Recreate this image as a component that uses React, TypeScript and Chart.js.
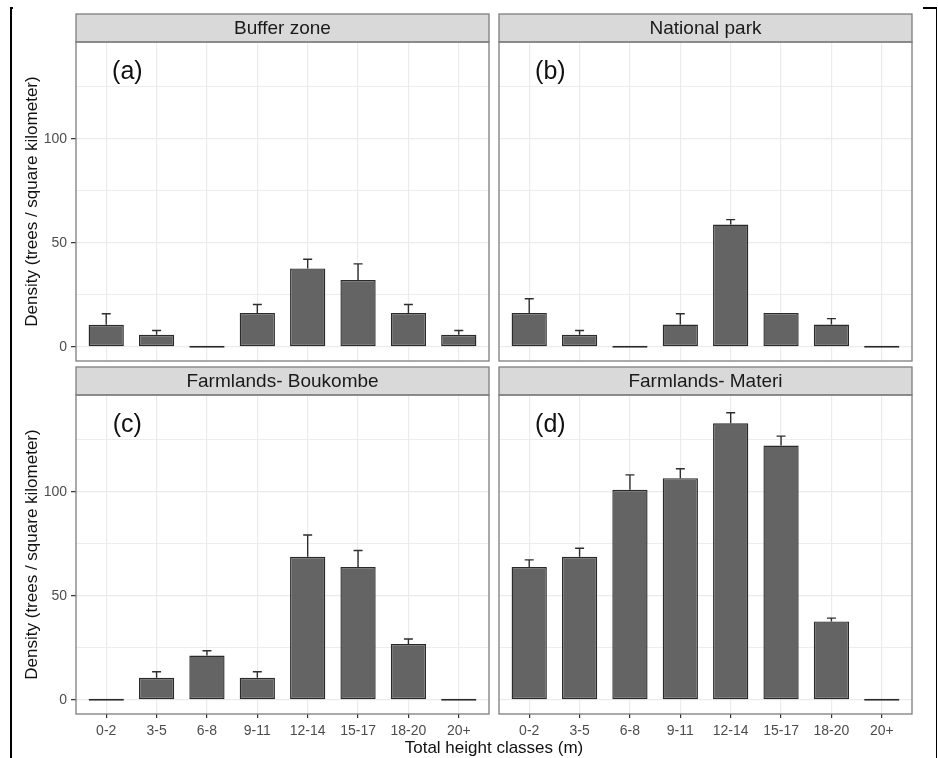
import React, { useEffect, useRef } from 'react';
import { Chart, registerables } from 'chart.js';

Chart.register(...registerables);

// ---- data ----
const heightClasses = ['0-2', '3-5', '6-8', '9-11', '12-14', '15-17', '18-20', '20+'];
const bufferZone = [10.6, 5.8, 0, 16.3, 37.7, 32.1, 16.3, 5.8];
const bufferZoneUpper = [15.9, 7.9, 0, 20.4, 42.1, 39.9, 20.4, 7.9];
const nationalPark = [16.3, 5.8, 0, 10.7, 58.8, 16.3, 10.7, 0];
const nationalParkUpper = [23.1, 7.9, 0, 15.9, 61.2, 16.3, 13.6, 0];
const boukombe = [0, 10.6, 21.3, 10.6, 68.8, 63.9, 26.9, 0];
const boukombeUpper = [0, 13.5, 23.6, 13.5, 79.3, 71.8, 29.3, 0];
const materi = [63.9, 68.8, 101, 106.6, 133, 122.3, 37.7, 0];
const materiUpper = [67.3, 72.9, 108.2, 111.1, 138.1, 126.8, 39.3, 0];
const yTicks = [0, 25, 50, 75, 100, 125];
const yLabelled = [0, 50, 100];
const panelTitles = ['Buffer zone', 'National park', 'Farmlands- Boukombe', 'Farmlands- Materi'];
const panelTags = ['(a)', '(b)', '(c)', '(d)'];
const yTitle = 'Density (trees / square kilometer)';
const xTitle = 'Total height classes (m)';

const FONT = '"Liberation Sans", Arial, Helvetica, sans-serif';

type PanelProps = {
  values: number[];
  upper: number[];
  title: string;
  tag: string;
  showY: boolean;
  showX: boolean;
  left: number;
  top: number;
  width: number;
  height: number;
  padding: { top: number; left: number; right: number; bottom: number };
};

function Panel(p: PanelProps) {
  const ref = useRef<HTMLCanvasElement | null>(null);
  useEffect(() => {
    if (!ref.current) return;
    const facet = {
      id: 'facet' + p.tag,
      afterDatasetsDraw(chart: any) {
        const { ctx } = chart;
        const x = chart.scales.x;
        const y = chart.scales.y;
        ctx.save();
        ctx.strokeStyle = '#2e2e2e';
        ctx.lineWidth = 1.4;
        p.upper.forEach((u, i) => {
          const v = p.values[i];
          if (u <= v) return;
          const px = x.getPixelForValue(i + 1);
          const y0 = y.getPixelForValue(v);
          const y1 = y.getPixelForValue(u);
          ctx.beginPath();
          ctx.moveTo(px, y0);
          ctx.lineTo(px, y1);
          ctx.moveTo(px - 4.5, y1);
          ctx.lineTo(px + 4.5, y1);
          ctx.stroke();
        });
        ctx.restore();
      },
      afterDraw(chart: any) {
        const { ctx, chartArea: a } = chart;
        const x = chart.scales.x;
        const y = chart.scales.y;
        ctx.save();
        // strip
        const sh = 28;
        ctx.fillStyle = '#D9D9D9';
        ctx.fillRect(a.left, a.top - sh, a.right - a.left, sh);
        ctx.strokeStyle = '#7d7d7d';
        ctx.lineWidth = 1.3;
        ctx.strokeRect(a.left, a.top - sh, a.right - a.left, sh);
        ctx.fillStyle = '#1A1A1A';
        ctx.font = `19px ${FONT}`;
        ctx.textAlign = 'center';
        ctx.textBaseline = 'middle';
        ctx.fillText(p.title, (a.left + a.right) / 2, a.top - sh / 2 + 1);
        // panel border
        ctx.strokeRect(a.left, a.top, a.right - a.left, a.bottom - a.top);
        // tag
        ctx.fillStyle = '#111';
        ctx.font = `25px ${FONT}`;
        ctx.fillText(p.tag, x.getPixelForValue(1.42), y.getPixelForValue(132));
        // y title
        if (p.showY) {
          ctx.translate(32, (a.top + a.bottom) / 2);
          ctx.rotate(-Math.PI / 2);
          ctx.fillStyle = '#111';
          ctx.font = `17px ${FONT}`;
          ctx.fillText(yTitle, 0, 0);
        }
        ctx.restore();
      },
    };

    const chart = new Chart(ref.current, {
      type: 'bar',
      data: {
        datasets: [
          {
            data: p.values.map((v, i) => ({ x: i + 1, y: v })),
            backgroundColor: '#646464',
            borderColor: '#2a2a2a',
            borderWidth: 1.4,
            borderSkipped: false,
            barPercentage: 0.7,
            categoryPercentage: 1,
            minBarLength: 2,
          } as any,
        ],
      },
      options: {
        animation: false,
        responsive: false,
        maintainAspectRatio: false,
        layout: { padding: p.padding },
        plugins: { legend: { display: false }, tooltip: { enabled: false } },
        scales: {
          x: {
            type: 'linear',
            min: 0.4,
            max: 8.6,
            offset: false,
            grid: {
              offset: false,
              color: '#EBEBEB',
              lineWidth: 1.2,
              drawTicks: p.showX,
              tickLength: 4,
              tickColor: '#333333',
              tickWidth: 1.2,
            },
            border: { display: false },
            ticks: {
              display: p.showX,
              color: '#4D4D4D',
              font: { family: FONT, size: 14 },
              padding: 5,
              maxRotation: 0,
              autoSkip: false,
              callback: (v: any) => heightClasses[Math.round(Number(v)) - 1] ?? '',
            },
            afterBuildTicks: (s: any) => {
              s.ticks = heightClasses.map((_, i) => ({ value: i + 1 }));
            },
            afterFit: (s: any) => {
              s.height = p.showX ? 44 : 0;
              s.paddingLeft = 0;
              s.paddingRight = 0;
              s.paddingTop = 0;
              s.paddingBottom = 0;
            },
          } as any,
          y: {
            type: 'linear',
            min: -6.8,
            max: 146.6,
            grid: {
              color: '#EBEBEB',
              lineWidth: (c: any) => (c.tick && yLabelled.includes(c.tick.value) ? 1.3 : 0.9),
              drawTicks: p.showY,
              tickLength: 5,
              tickWidth: 1.2,
              tickColor: (c: any) =>
                c.tick && yLabelled.includes(c.tick.value) ? '#333333' : 'rgba(0,0,0,0)',
            },
            border: { display: false },
            ticks: {
              display: p.showY,
              color: '#4D4D4D',
              font: { family: FONT, size: 14 },
              padding: 4,
              callback: (v: any) => (yLabelled.includes(Number(v)) ? String(v) : ''),
            },
            afterBuildTicks: (s: any) => {
              s.ticks = yTicks.map((v) => ({ value: v }));
            },
            afterFit: (s: any) => {
              s.width = p.showY ? 76 : 0;
              s.paddingLeft = 0;
              s.paddingRight = 0;
              s.paddingTop = 0;
              s.paddingBottom = 0;
            },
          } as any,
        },
      },
      plugins: [facet as any],
    });
    return () => chart.destroy();
  }, []);

  return (
    <canvas
      ref={ref}
      width={p.width}
      height={p.height}
      style={{ position: 'absolute', left: p.left, top: p.top, width: p.width, height: p.height }}
    />
  );
}

export default function App() {
  const padL = { top: 42, left: 0, right: 5, bottom: 3 };
  const padR = { top: 42, left: 5, right: 26, bottom: 3 };
  const padLB = { top: 31, left: 0, right: 5, bottom: 0 };
  const padRB = { top: 31, left: 5, right: 26, bottom: 0 };
  return (
    <div
      style={{
        position: 'absolute',
        left: 0,
        top: 0,
        width: 938,
        height: 758,
        background: '#fff',
        overflow: 'hidden',
        fontFamily: FONT,
      }}
    >
      <Panel values={bufferZone} upper={bufferZoneUpper} title={panelTitles[0]} tag={panelTags[0]}
        showY={true} showX={false} left={0} top={0} width={494} height={364} padding={padL} />
      <Panel values={nationalPark} upper={nationalParkUpper} title={panelTitles[1]} tag={panelTags[1]}
        showY={false} showX={false} left={494} top={0} width={444} height={364} padding={padR} />
      <Panel values={boukombe} upper={boukombeUpper} title={panelTitles[2]} tag={panelTags[2]}
        showY={true} showX={true} left={0} top={364} width={494} height={394} padding={padLB} />
      <Panel values={materi} upper={materiUpper} title={panelTitles[3]} tag={panelTags[3]}
        showY={false} showX={true} left={494} top={364} width={444} height={394} padding={padRB} />
      <div
        style={{
          position: 'absolute',
          left: 76,
          width: 836,
          top: 738,
          lineHeight: '20px',
          fontSize: 17,
          textAlign: 'center',
          color: '#111',
        }}
      >
        {xTitle}
      </div>
      {/* outer frame marks */}
      <div style={{ position: 'absolute', left: 10, top: 7, width: 1.5, height: 751, background: '#000' }} />
      <div style={{ position: 'absolute', left: 10, top: 7, width: 3, height: 1.5, background: '#000' }} />
      <div style={{ position: 'absolute', left: 935.5, top: 7, width: 1.5, height: 751, background: '#000' }} />
      <div style={{ position: 'absolute', left: 923, top: 7, width: 14, height: 1.5, background: '#000' }} />
    </div>
  );
}
